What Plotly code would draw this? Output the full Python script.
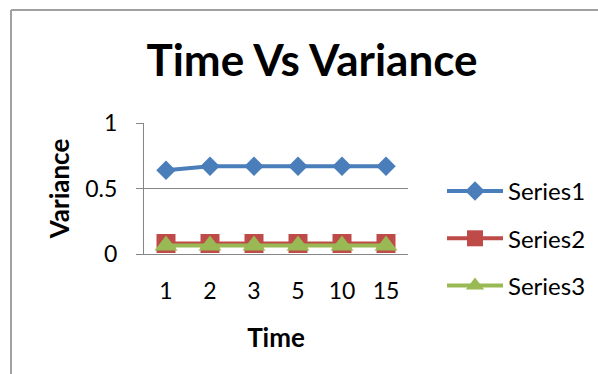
import plotly.graph_objects as go

categories = ["1", "2", "3", "5", "10", "15"]
series1 = [0.64, 0.67, 0.67, 0.67, 0.67, 0.67]
series2 = [0.08, 0.08, 0.08, 0.08, 0.08, 0.08]
series3 = [0.065, 0.065, 0.065, 0.065, 0.065, 0.065]
y_ticks = [0, 0.5, 1]
y_tick_labels = ["0", "0.5", "1"]

W, H = 598, 374
L, R, T, B = 144, W - 408, 123, H - 254
pw, ph = W - L - R, H - T - B

FONT = "Lato, Calibri, Carlito, sans-serif"

fig = go.Figure()
fig.add_trace(go.Scatter(x=categories, y=series1, name="Series1", mode="lines+markers",
                         legendgroup="g1",
                         line=dict(color="#4A7EBB", width=4),
                         marker=dict(symbol="diamond", size=15, color="#4A7EBB")))
fig.add_trace(go.Scatter(x=categories, y=series2, name="Series2", mode="lines+markers",
                         legendgroup="g2",
                         line=dict(color="#BE4B48", width=4),
                         marker=dict(symbol="square", size=19, color="#BE4B48")))
fig.add_trace(go.Scatter(x=categories, y=series3, name="Series3", mode="lines+markers",
                         legendgroup="g3",
                         line=dict(color="#98B954", width=4),
                         marker=dict(symbol="triangle-up", size=20, color="#98B954")))

def px_x(x):
    return (x - L) / pw

def px_y(y):
    return (H - B - y) / ph

fig.update_layout(
    width=W, height=H,
    margin=dict(l=L, r=R, t=T, b=B, autoexpand=False),
    paper_bgcolor="white", plot_bgcolor="white",
    font=dict(family=FONT, color="black"),
    title=dict(text="<b>Time Vs Variance</b>", font=dict(size=44, family=FONT),
               x=px_x(312), xref="paper", xanchor="center",
               y=1 - 61 / H, yref="container", yanchor="middle"),
    xaxis=dict(type="category", showgrid=False, showline=True, linecolor="#868686",
               linewidth=1, ticks="", tickfont=dict(size=23), ticklabelstandoff=16,
               title=dict(text="<b>Time</b>", font=dict(size=26), standoff=26),
               range=[-0.5, 5.5], fixedrange=True),
    yaxis=dict(range=[0, 1], tickvals=y_ticks, ticktext=y_tick_labels,
               showgrid=True, gridcolor="#868686", gridwidth=1,
               showline=True, linecolor="#868686", linewidth=1,
               ticks="outside", ticklen=7, tickcolor="#868686",
               tickfont=dict(size=23), zeroline=False, ticklabelstandoff=14,
               title=dict(text="<b>Variance</b>", font=dict(size=26), standoff=8)),
    legend=dict(x=px_x(442), xanchor="left", y=px_y(169), yanchor="top",
                font=dict(size=24), bgcolor="rgba(0,0,0,0)", itemwidth=56,
                tracegroupgap=13, maxheight=374),
    shapes=[
        dict(type="line", xref="paper", yref="paper",
             x0=px_x(11), x1=px_x(11), y0=px_y(10), y1=px_y(H + 5),
             line=dict(color="#A0A0A0", width=2)),
        dict(type="line", xref="paper", yref="paper",
             x0=px_x(11), x1=px_x(W + 5), y0=px_y(10), y1=px_y(10),
             line=dict(color="#A0A0A0", width=2)),
    ],
)

fig.write_html("out.html")
